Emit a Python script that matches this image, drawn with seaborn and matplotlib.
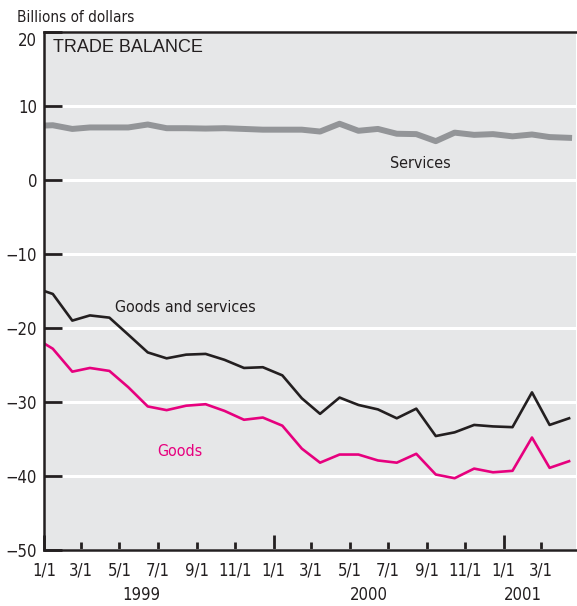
import pandas as pd
import matplotlib.pyplot as plt
import matplotlib.dates as mdates
import matplotlib.ticker as mticker
import seaborn as sns

# Monthly trade balance, billions of dollars, Dec 1998 - Apr 2001
# (Dec 1998 only feeds the clipped segment at the left edge)
months = pd.date_range("1998-12-01", "2001-04-01", freq="MS") + pd.Timedelta(days=14)

goods_services = [-14.5, -15.4, -19.0, -18.3, -18.6, -20.9, -23.3, -24.1, -23.6, -23.5,
                  -24.3, -25.4, -25.3, -26.4, -29.5, -31.6, -29.4, -30.4, -31.0, -32.2,
                  -30.9, -34.6, -34.1, -33.1, -33.3, -33.4, -28.7, -33.1, -32.2]
goods = [-21.2, -22.8, -25.9, -25.4, -25.8, -28.0, -30.6, -31.1, -30.5, -30.3,
         -31.2, -32.4, -32.1, -33.2, -36.3, -38.2, -37.1, -37.1, -37.9, -38.2,
         -37.0, -39.8, -40.3, -39.0, -39.5, -39.3, -34.8, -38.9, -38.0]
services = [7.3, 7.4, 6.9, 7.1, 7.1, 7.1, 7.5, 7.0, 7.0, 6.95,
            7.0, 6.9, 6.8, 6.8, 6.8, 6.55, 7.6, 6.65, 6.9, 6.25,
            6.2, 5.25, 6.4, 6.1, 6.2, 5.9, 6.15, 5.8, 5.7]

year_labels = ["1999", "2000", "2001"]
year_label_pos = ["1999-06-05", "2000-06-01", "2001-02-01"]

df = pd.DataFrame({"date": months, "Goods and services": goods_services,
                   "Goods": goods, "Services": services})

narrow = dict(family="DejaVu Sans", stretch="condensed")
txt_color = "#231f20"

fig = plt.figure(figsize=(5.77, 6.06), dpi=100)
ax = fig.add_axes([44 / 577, 1 - 550 / 606, 532 / 577, 518 / 606])
ax.set_facecolor("#e6e7e8")

sns.lineplot(data=df, x="date", y="Services", color="#939598", linewidth=4.3,
             ax=ax, legend=False)
sns.lineplot(data=df, x="date", y="Goods and services", color="#231f20", linewidth=1.9,
             ax=ax, legend=False)
sns.lineplot(data=df, x="date", y="Goods", color="#e6007e", linewidth=1.9,
             ax=ax, legend=False)

ax.set_xlim(pd.Timestamp("1999-01-01"), pd.Timestamp("2001-04-26"))
ax.set_ylim(-50, 20)
ax.set_yticks(range(-50, 30, 10))
ax.yaxis.grid(True, color="white", linewidth=2.2)
ax.xaxis.grid(False)
ax.set_axisbelow(True)
ax.set_xlabel("")
ax.set_ylabel("")

# x ticks: tall at Jan 1, short every other month
ax.xaxis.set_major_locator(mdates.MonthLocator(bymonth=[1]))
ax.xaxis.set_minor_locator(mdates.MonthLocator(bymonth=[3, 5, 7, 9, 11]))
fmt = mticker.FuncFormatter(lambda v, p: f"{mdates.num2date(v).month}/1")
ax.xaxis.set_major_formatter(fmt)
ax.xaxis.set_minor_formatter(fmt)
ax.tick_params(axis="x", which="major", direction="in", length=11, width=2, pad=8,
               colors=txt_color, labelsize=12)
ax.tick_params(axis="x", which="minor", direction="in", length=5.5, width=2, pad=8,
               colors=txt_color, labelsize=12)
ax.tick_params(axis="y", direction="in", length=13, width=2, pad=5,
               colors=txt_color, labelsize=12)
for lab in ax.get_xticklabels(which="both") + ax.get_yticklabels():
    lab.set_family(narrow["family"])
    lab.set_stretch(narrow["stretch"])
ax.get_yticklabels()[-1].set_va("top")

for side in ["left", "bottom", "top"]:
    ax.spines[side].set_color(txt_color)
    ax.spines[side].set_linewidth(1.8)
ax.spines["right"].set_visible(False)

for lab, pos in zip(year_labels, year_label_pos):
    ax.text(pd.Timestamp(pos), -0.087, lab, transform=ax.get_xaxis_transform(),
            ha="center", va="center", fontsize=12, color=txt_color, **narrow)

fig.text(17 / 577, 1 - 17 / 606, "Billions of dollars", ha="left", va="center",
         fontsize=11, color=txt_color, **narrow)
ax.text(0.017, 0.971, "TRADE BALANCE", transform=ax.transAxes, ha="left", va="center",
        fontsize=13, family="Liberation Sans", color=txt_color)

ax.text(0.707, 0.747, "Services", transform=ax.transAxes, ha="center", va="center",
        fontsize=11.5, color=txt_color, **narrow)
ax.text(0.265, 0.469, "Goods and services", transform=ax.transAxes, ha="center",
        va="center", fontsize=11.5, color=txt_color, **narrow)
ax.text(0.256, 0.191, "Goods", transform=ax.transAxes, ha="center", va="center",
        fontsize=11.5, color="#e6007e", **narrow)

fig.savefig("out.png", dpi=100)
